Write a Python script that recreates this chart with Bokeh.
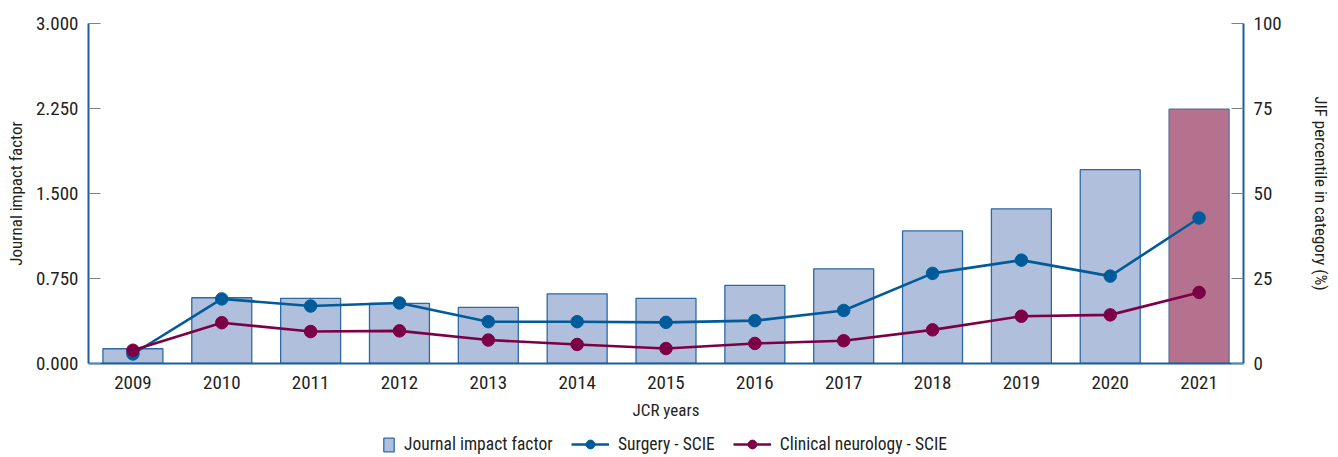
from bokeh.plotting import figure
from bokeh.layouts import column
from bokeh.models import (ColumnDataSource, Range1d, LinearAxis, FactorRange,
                          Legend, LegendItem, FixedTicker, NumeralTickFormatter)
from bokeh.embed import file_html
from bokeh.resources import INLINE

years = ["2009", "2010", "2011", "2012", "2013", "2014", "2015", "2016",
         "2017", "2018", "2019", "2020", "2021"]
jif = [0.13, 0.58, 0.575, 0.53, 0.495, 0.615, 0.575, 0.69, 0.835, 1.17, 1.365, 1.71, 2.245]
surgery_pct = [2.8, 19.0, 16.9, 17.8, 12.3, 12.3, 12.1, 12.6, 15.6, 26.5, 30.4, 25.7, 42.8]
neuro_pct = [3.9, 12.0, 9.4, 9.6, 6.9, 5.6, 4.4, 5.9, 6.7, 9.9, 13.9, 14.3, 20.9]
highlight_year = "2021"
series_labels = ["Journal impact factor", "Surgery - SCIE", "Clinical neurology - SCIE"]

FONT = "'Roboto Condensed', Roboto, sans-serif"
TXT = "#231f20"
AXIS_BLUE = "#1d5d9b"
BAR_FILL = "#b0bfdc"
BAR_LINE = "#2d6aa5"
BAR_HL = "#b5728f"
SURG = "#005b9a"
NEURO = "#7b0045"

bar_fill = [BAR_HL if y == highlight_year else BAR_FILL for y in years]
bar_line = ["#5b6f96" if y == highlight_year else BAR_LINE for y in years]

src = ColumnDataSource(dict(year=years, jif=jif, surg=surgery_pct, neuro=neuro_pct,
                            fill=bar_fill, line=bar_line))

p = figure(frame_width=1155, frame_height=340, x_range=FactorRange(*years, range_padding=0),
           y_range=Range1d(0, 3.0), output_backend="svg", toolbar_location=None,
           min_border_left=88, min_border_right=95, min_border_top=23,
           min_border_bottom=64)
p.extra_y_ranges = {"pct": Range1d(0, 100)}
p.outline_line_color = None
p.xgrid.grid_line_color = None
p.ygrid.grid_line_color = None

p.vbar(x="year", top="jif", width=0.675, source=src, fill_color="fill",
       line_color="line", line_width=1.3)
p.line(x="year", y="surg", source=src, y_range_name="pct", line_color=SURG, line_width=2.6)
p.scatter(x="year", y="surg", source=src, y_range_name="pct", size=12.5,
          fill_color=SURG, line_color=SURG)
p.line(x="year", y="neuro", source=src, y_range_name="pct", line_color=NEURO, line_width=2.6)
p.scatter(x="year", y="neuro", source=src, y_range_name="pct", size=12.5,
          fill_color=NEURO, line_color=NEURO)

def style_axis(ax):
    ax.axis_line_color = AXIS_BLUE
    ax.axis_line_width = 2
    ax.major_tick_line_color = "#808080"
    ax.major_tick_line_width = 1.2
    ax.major_tick_in = 12
    ax.major_tick_out = 0
    ax.minor_tick_line_color = None
    ax.major_label_text_font = FONT
    ax.major_label_text_font_size = "19px"
    ax.major_label_text_color = TXT
    ax.axis_label_text_font = FONT
    ax.axis_label_text_font_size = "17px"
    ax.axis_label_text_font_style = "normal"
    ax.axis_label_text_color = TXT

ya = p.yaxis[0]
style_axis(ya)
ya.ticker = FixedTicker(ticks=[0, 0.75, 1.5, 2.25, 3.0])
ya.formatter = NumeralTickFormatter(format="0.000")
ya.axis_label = "Journal impact factor"
ya.major_label_standoff = 10
ya.axis_label_standoff = 7

ra = LinearAxis(y_range_name="pct", axis_label="JIF percentile in category (%)")
style_axis(ra)
ra.ticker = FixedTicker(ticks=[0, 25, 50, 75, 100])
ra.major_label_standoff = 10
ra.axis_label_standoff = 26
p.add_layout(ra, "right")

xa = p.xaxis[0]
style_axis(xa)
xa.major_tick_line_color = None
xa.axis_label = "JCR years"
xa.major_label_standoff = 12
xa.axis_label_standoff = 8

# legend strip below the chart (keys come from invisible, zero-size proxy glyphs)
lf = figure(width=1338, height=30, x_range=Range1d(0, 1), y_range=Range1d(0, 1),
            output_backend="svg", toolbar_location=None, min_border=0)
lf.axis.visible = False
lf.grid.visible = False
lf.outline_line_color = None
rb = lf.vbar(x=[0.5], top=[0], bottom=0, width=0, fill_color=BAR_FILL,
             line_color=BAR_LINE, line_width=1.3)
rl1 = lf.line(x=[-5, -4], y=[-5, -5], line_color=SURG, line_width=2.6)
rc1 = lf.scatter(x=[-5], y=[-5], size=9, fill_color=SURG, line_color=SURG)
rl2 = lf.line(x=[-5, -4], y=[-5, -5], line_color=NEURO, line_width=2.6)
rc2 = lf.scatter(x=[-5], y=[-5], size=9, fill_color=NEURO, line_color=NEURO)

def style_legend(lg, gw, gh):
    lg.label_text_font = FONT
    lg.label_text_font_size = "17.5px"
    lg.label_text_color = TXT
    lg.border_line_color = None
    lg.background_fill_alpha = 0
    lg.glyph_width = gw
    lg.glyph_height = gh
    lg.spacing = 18
    lg.padding = 0
    lg.margin = 0
    lg.label_standoff = 9

leg_a = Legend(items=[LegendItem(label=series_labels[0], renderers=[rb])],
               orientation="horizontal", location=(294, 3))
style_legend(leg_a, 13, 17)
leg_b = Legend(items=[LegendItem(label=series_labels[1], renderers=[rl1, rc1]),
                      LegendItem(label=series_labels[2], renderers=[rl2, rc2])],
               orientation="horizontal", location=(483, 2))
style_legend(leg_b, 38, 22)
lf.add_layout(leg_a, "center")
lf.add_layout(leg_b, "center")

open("out.html", "w").write(file_html(column(p, lf), INLINE))
